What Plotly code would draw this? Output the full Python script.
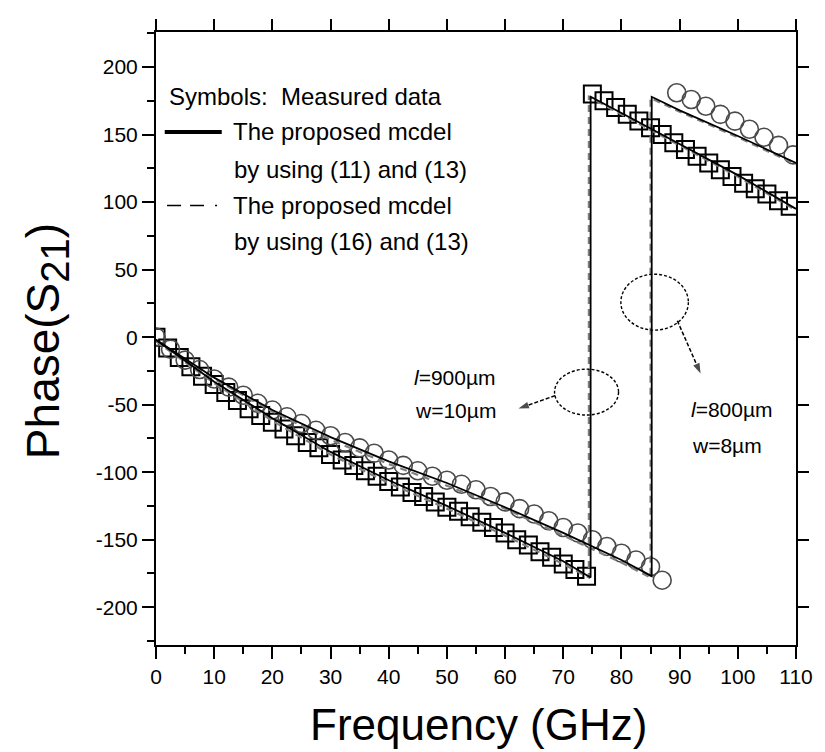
import plotly.graph_objects as go

# ---------------- data ----------------
# Measured data, l=900um, w=10um (squares)
sq_f_low = [0, 2, 4, 6, 8, 10, 12, 14, 16, 18, 20, 22, 24, 26, 28, 30, 32, 34, 36, 38,
            40, 42, 44, 46, 48, 50, 52, 54, 56, 58, 60, 62, 64, 66, 68, 70, 72, 74]
sq_p_low = [0, -8, -15, -22, -29, -35, -41, -47, -53, -58, -63, -68, -73, -78, -82, -87, -91, -95, -99, -103,
            -107, -111, -115, -118, -122, -126, -129, -133, -137, -141, -145, -150, -154, -159, -163, -168, -172, -177]
sq_f_high = [75, 77, 79, 81, 83, 85, 87, 89, 91, 93, 95, 97, 99, 101, 103, 105, 107, 109]
sq_p_high = [180, 175, 170, 165, 160, 155, 150, 144, 139, 134, 129, 124, 119, 114, 110, 106, 101, 97]

# Measured data, l=800um, w=8um (circles)
ci_f_low = [0, 2.5, 5, 7.5, 10, 12.5, 15, 17.5, 20, 22.5, 25, 27.5, 30, 32.5, 35, 37.5, 40, 42.5,
            45, 47.5, 50, 52.5, 55, 57.5, 60, 62.5, 65, 67.5, 70, 72.5, 75, 77.5, 80, 82.5, 85, 87]
ci_p_low = [0, -9, -17, -24, -31, -37, -43, -49, -54, -59, -64, -69, -73, -78, -82, -86, -91, -95,
            -99, -103, -106, -109, -113, -118, -122, -127, -131, -136, -141, -145, -150, -155, -160, -165, -170, -180]
ci_f_high = [89.5, 92, 94.5, 97, 99.5, 102, 104.5, 107, 109.5]
ci_p_high = [181, 176, 171, 165, 160, 154, 148, 142, 135]

# Model (11)+(13), solid
m1_900_f = [0, 10, 20, 30, 40, 50, 60, 70, 74.7, 74.7, 80, 90, 100, 110]
m1_900_p = [-2, -33, -60, -85, -106, -125, -145, -166, -178, 178, 166, 143, 120, 95]
m1_800_f = [0, 10, 20, 30, 40, 50, 60, 70, 80, 85.2, 85.2, 90, 100, 110]
m1_800_p = [-2, -30, -54, -74, -92, -108, -126, -145, -165, -177, 178, 168, 149, 129]

# Model (16)+(13), dashed
m2_900_f = [0, 10, 20, 30, 40, 50, 60, 70, 74.4, 74.4, 80, 90, 100, 110]
m2_900_p = [-3, -34, -62, -87, -108, -127, -147, -168, -178, 178, 165, 142, 119, 94]
m2_800_f = [0, 10, 20, 30, 40, 50, 60, 70, 80, 85.0, 85.0, 90, 100, 110]
m2_800_p = [-3, -31, -55, -76, -94, -110, -127, -147, -167, -178, 177, 167, 148, 128]

x_ticks = [0, 10, 20, 30, 40, 50, 60, 70, 80, 90, 100, 110]
x_ticktext = ["0", "10", "20", "30", "40", "50", "60", "70", "80", "90", "100", "110"]
y_ticks = [-200, -150, -100, -50, 0, 50, 100, 150, 200]
y_ticktext = ["-200", "-150", "-100", "-50", "0", "50", "100", "150", "200"]

# pointer arrows (tail -> head) from the ellipses to the labels
arrow_900_x = [68.6, 62.3]
arrow_900_y = [-43.3, -52.9]
arrow_800_x = [89.6, 93.6]
arrow_800_y = [12.2, -27.0]

FONT = "Liberation Sans, Arial, sans-serif"

fig = go.Figure()

# markers
fig.add_trace(go.Scatter(x=sq_f_low + [None] + sq_f_high, y=sq_p_low + [None] + sq_p_high,
                         mode="markers",
                         marker=dict(symbol="square-open", size=17, color="black",
                                     line=dict(width=2, color="black")),
                         showlegend=False))
fig.add_trace(go.Scatter(x=ci_f_low + [None] + ci_f_high, y=ci_p_low + [None] + ci_p_high,
                         mode="markers",
                         marker=dict(symbol="circle-open", size=18, color="#4a4a4a",
                                     line=dict(width=1.6, color="#4a4a4a")),
                         showlegend=False))

# model lines
for f, p in [(m2_900_f, m2_900_p), (m2_800_f, m2_800_p)]:
    fig.add_trace(go.Scatter(x=f, y=p, mode="lines",
                             line=dict(color="#808080", width=2.2, dash="7px,5px"),
                             showlegend=False))
for f, p in [(m1_900_f, m1_900_p), (m1_800_f, m1_800_p)]:
    fig.add_trace(go.Scatter(x=f, y=p, mode="lines",
                             line=dict(color="black", width=1.8),
                             showlegend=False))

# dashed arrows with heads
for ax_, ay_ in [(arrow_900_x, arrow_900_y), (arrow_800_x, arrow_800_y)]:
    fig.add_trace(go.Scatter(x=ax_, y=ay_, mode="lines+markers",
                             line=dict(color="black", width=1.5, dash="4px,2px"),
                             marker=dict(symbol="arrow", size=[0, 11], color="black",
                                         angleref="previous", line=dict(width=0)),
                             showlegend=False, hoverinfo="skip"))

# overlay axes for mirrored major ticks on top/right
fig.add_trace(go.Scatter(x=[0], y=[0], xaxis="x2", yaxis="y2", mode="markers",
                         marker=dict(opacity=0), showlegend=False, hoverinfo="skip"))

axis_common = dict(showline=True, linecolor="black", linewidth=2, showgrid=False,
                   zeroline=False, ticks="outside", tickcolor="black", tickwidth=2,
                   ticklen=12, tickfont=dict(family=FONT, size=21, color="black"))

# page body has an 8px margin: figure is shifted by 8px, so size/margins compensate
fig.update_layout(
    width=817, height=744,
    margin=dict(l=148, r=18, t=15, b=107),
    plot_bgcolor="white", paper_bgcolor="white",
    xaxis=dict(range=[0, 110], tickvals=x_ticks, ticktext=x_ticktext, mirror=True,
               minor=dict(dtick=5, ticks="outside", ticklen=7, tickcolor="black", tickwidth=2),
               **axis_common),
    yaxis=dict(range=[-228, 226], tickvals=y_ticks, ticktext=y_ticktext, mirror=True,
               minor=dict(dtick=25, tick0=0, ticks="outside", ticklen=7, tickcolor="black", tickwidth=2),
               **axis_common),
    xaxis2=dict(range=[0, 110], overlaying="x", side="top", tickvals=x_ticks,
                ticks="outside", ticklen=12, tickwidth=2, tickcolor="black",
                showticklabels=False, showgrid=False, zeroline=False, showline=False),
    yaxis2=dict(range=[-228, 226], overlaying="y", side="right", tickvals=y_ticks,
                ticks="outside", ticklen=12, tickwidth=2, tickcolor="black",
                showticklabels=False, showgrid=False, zeroline=False, showline=False),
    showlegend=False,
)

ann = []
# axis titles
ann.append(dict(text="Frequency (GHz)", xref="paper", yref="paper", x=0.504, y=-0.13,
                showarrow=False, font=dict(family=FONT, size=44, color="black"),
                xanchor="center", yanchor="middle"))
ann.append(dict(text="Phase(S<sub><span style='font-size:40px'>21</span></sub>)",
                xref="paper", yref="paper", x=-0.171, y=0.495,
                showarrow=False, textangle=-90, font=dict(family=FONT, size=46, color="black"),
                xanchor="center", yanchor="middle"))

# legend-like text
lg_font = dict(family=FONT, size=24, color="black")
ann.append(dict(text="Symbols:  Measured data", x=1.9, y=178.5, xref="x", yref="y",
                showarrow=False, xanchor="left", yanchor="middle", font=lg_font))
ann.append(dict(text="The proposed mcdel", x=12.9, y=152, xref="x", yref="y",
                showarrow=False, xanchor="left", yanchor="middle", font=lg_font))
ann.append(dict(text="by using (11) and (13)", x=13.1, y=124.5, xref="x", yref="y",
                showarrow=False, xanchor="left", yanchor="middle", font=lg_font))
ann.append(dict(text="The proposed mcdel", x=12.9, y=97.5, xref="x", yref="y",
                showarrow=False, xanchor="left", yanchor="middle", font=lg_font))
ann.append(dict(text="by using (16) and (13)", x=13.1, y=70.5, xref="x", yref="y",
                showarrow=False, xanchor="left", yanchor="middle", font=lg_font))

# labels
lb_font = dict(family=FONT, size=21, color="black")
ann.append(dict(text="<i>l</i>=900µm", x=44.0, y=-30, xref="x", yref="y",
                showarrow=False, xanchor="left", yanchor="middle", font=lb_font))
ann.append(dict(text="w=10µm", x=44.2, y=-54.5, xref="x", yref="y",
                showarrow=False, xanchor="left", yanchor="middle", font=lb_font))
ann.append(dict(text="<i>l</i>=800µm", x=91.6, y=-53.5, xref="x", yref="y",
                showarrow=False, xanchor="left", yanchor="middle", font=lb_font))
ann.append(dict(text="w=8µm", x=91.8, y=-80, xref="x", yref="y",
                showarrow=False, xanchor="left", yanchor="middle", font=lb_font))
fig.update_layout(annotations=ann)

shapes = []
# legend line samples
shapes.append(dict(type="line", xref="x", yref="y", x0=1.5, x1=11.3, y0=152, y1=152,
                   line=dict(color="black", width=4)))
shapes.append(dict(type="line", xref="x", yref="y", x0=1.9, x1=11.3, y0=97.5, y1=97.5,
                   line=dict(color="black", width=1.5, dash="14px,9px,14px,11px,2px,20px")))
# ellipses
shapes.append(dict(type="circle", xref="x", yref="y", x0=68.5, x1=79.5, y0=-57.7, y1=-23.7,
                   line=dict(color="black", width=1.4, dash="3px,2px")))
shapes.append(dict(type="circle", xref="x", yref="y", x0=79.9, x1=91.5, y0=5.2, y1=46.6,
                   line=dict(color="black", width=1.4, dash="3px,2px")))
fig.update_layout(shapes=shapes)

fig.write_html("out.html")
